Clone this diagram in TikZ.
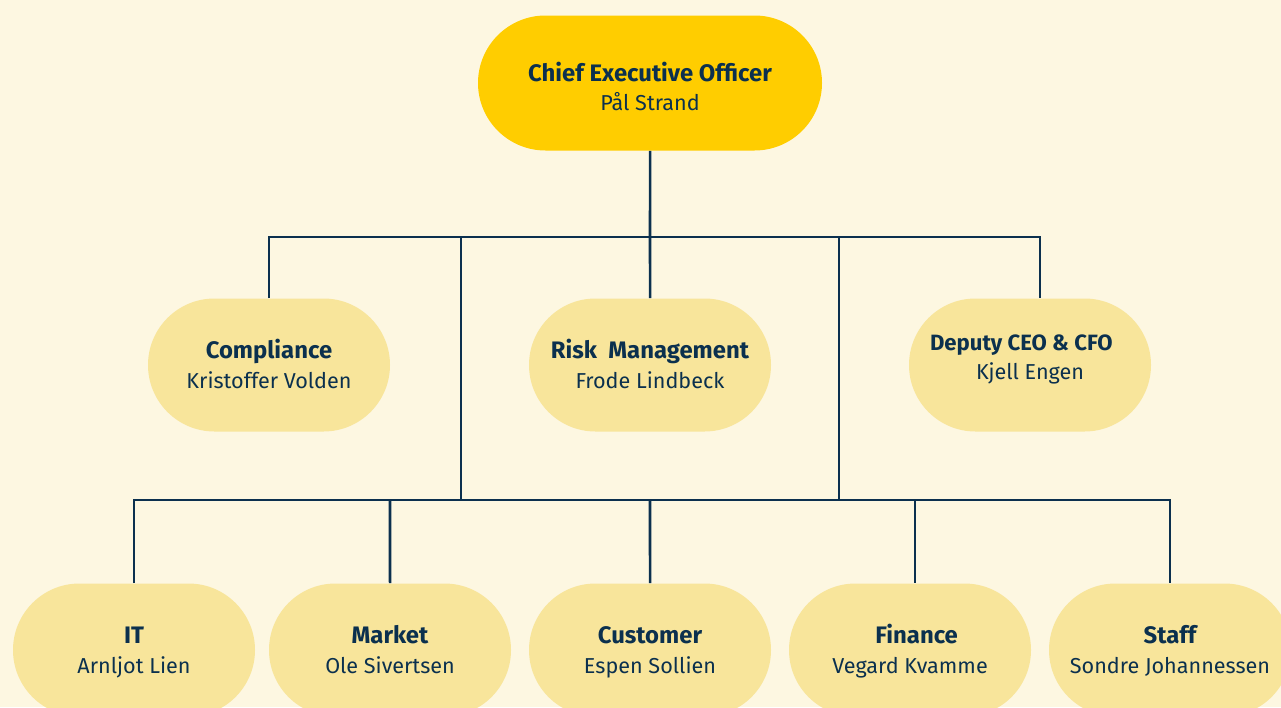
\documentclass[tikz,border=0pt]{standalone}
\usepackage{fontspec}
\setmainfont{Fira Sans}
\usepackage{tikz}
\usetikzlibrary{shapes.misc}

\definecolor{paper}{HTML}{FDF7E1}
\definecolor{ceofill}{HTML}{FFCD00}
\definecolor{unitfill}{HTML}{F8E59B}
\definecolor{navy}{HTML}{0B304E}

% bold title over the name
\newcommand{\unittext}[2]{{\fontsize{17.9}{22}\selectfont\bfseries #1}\\#2}

\begin{document}
\begin{tikzpicture}[x=0.75pt, y=-0.75pt,
    box/.style={rounded rectangle, align=center, text=navy, inner sep=0pt,
      font=\fontsize{16.2}{22}\selectfont, text height=39.5pt, text depth=5pt},
    ceo/.style={box, fill=ceofill, minimum width=258pt, minimum height=101.25pt,
      text height=46pt},
    unit/.style={box, fill=unitfill, minimum width=181.5pt, minimum height=99.75pt},
    wire/.style={draw=navy, line width=1.9pt}]
  \path[use as bounding box, fill=paper] (0,0) rectangle (1281,707);
  \clip (0,0) rectangle (1281,707);

  % Nodes
  \node[ceo] (ceo) at (650,83) {\unittext{Chief Executive Officer}{Pål Strand}};
  \node[unit] (comp) at (269,365) {\unittext{Compliance}{Kristoffer Volden}};
  \node[unit] (risk) at (650,365) {\unittext{Risk~ Management}{Frode Lindbeck}};
  \node[unit, text height=26.6pt] (dep) at (1030,365)
    {\unittext{\fontsize{16.6}{22}\selectfont Deputy CEO \& CFO\hspace*{13pt}}{Kjell Engen}};
  \node[unit] (it) at (134,650) {\unittext{IT}{Arnljot Lien}};
  \node[unit] (market) at (390,650) {\unittext{Market}{Ole Sivertsen}};
  \node[unit] (cust) at (650,650) {\unittext{Customer}{Espen Sollien}};
  \node[unit] (fin) at (910,650) {\unittext{\hspace*{10pt}Finance}{Vegard Kvamme}};
  \node[unit] (staff) at (1170,650) {\unittext{Staff}{Sondre Johannessen}};

  % Bus points
  \coordinate (upper) at (650,237);
  \coordinate (lower) at (650,500);
  \coordinate (dropl) at (461,237);
  \coordinate (dropr) at (839,237);

  % CEO down to the upper bus
  \draw[wire] (ceo) -- (upper);
  \draw[wire] (comp) |- (upper) -| ([xshift=7.5pt]dep.north);
  \draw[wire] (upper) -- (risk);

  % Two drops to the lower bus
  \foreach \x in {dropl,dropr}
  {
    \draw[wire] (\x) -- (\x |- lower);
  }

  % Lower bus out to the units
  \draw[wire] (it) |- (lower) -| (staff);
  \foreach \x in {market,cust}
  {
    \draw[wire] (lower -| \x) -- (\x);
  }
  \draw[wire] ([xshift=3.75pt]fin.north |- lower) -- ([xshift=3.75pt]fin.north);
\end{tikzpicture}
\end{document}
